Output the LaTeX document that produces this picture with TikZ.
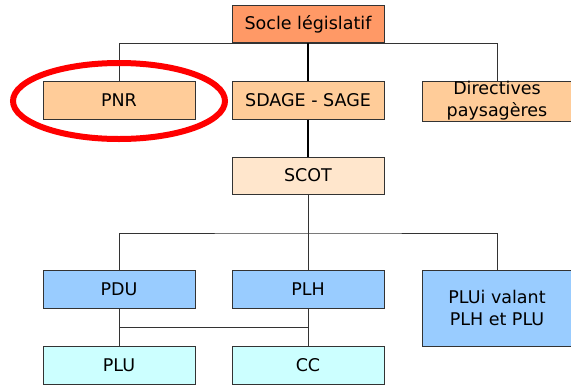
\documentclass[tikz,border=0pt]{standalone}
\usepackage{fontspec}
\setmainfont{DejaVu Sans}
\definecolor{cSocle}{HTML}{FF9966}
\definecolor{cOrange}{HTML}{FFCC99}
\definecolor{cLight}{HTML}{FFE6CC}
\definecolor{cBlue}{HTML}{99CCFF}
\definecolor{cCyan}{HTML}{CCFFFF}
\definecolor{cLine}{HTML}{333333}
\begin{document}
\begin{tikzpicture}[x=1pt,y=-1pt,
  box/.style={draw=cLine, line width=1pt, minimum width=152pt, minimum height=38pt,
    inner sep=0pt, align=center, font=\fontsize{17.5}{22}\selectfont},
  conn/.style={draw=cLine, line width=1pt},
  thick conn/.style={draw=black, line width=2pt}]
\useasboundingbox (0,0) rectangle (571,384);
\node[box, fill=cSocle, minimum height=37.5pt] (socle) at (308,24.2) {Socle législatif};
\node[box, fill=cOrange] (pnr) at (119,100) {PNR};
\node[box, fill=cOrange] (sdage) at (308,100) {SDAGE - SAGE};
\node[box, fill=cOrange, minimum width=150pt, minimum height=40pt] (dir) at (497,101) {Directives\\paysagères};
\node[box, fill=cLight, minimum height=37pt] (scot) at (308,175.5) {SCOT};
\node[box, fill=cBlue] (pdu) at (119,289) {PDU};
\node[box, fill=cBlue] (plh) at (308,289) {PLH};
\node[box, fill=cBlue, minimum width=150pt, minimum height=76pt] (plui) at (497,308) {PLUi valant\\PLH et PLU};
\node[box, fill=cCyan] (plu) at (119,365) {PLU};
\node[box, fill=cCyan] (cc) at (308,365) {CC};
% connectors
\coordinate (hb) at (308,233);
\coordinate (hc) at (308,327);
\draw[conn] (pnr.north) |- (socle.south) -| (dir.north);
\draw[thick conn] (socle.south) -- (sdage.north);
\draw[thick conn] (sdage.south) -- (scot.north);
\draw[conn] (scot.south) -- (hb);
\draw[conn] (pdu.north) |- (hb) -| (plui.north);
\draw[conn] (hb) -- (plh.north);
\draw[conn] (pdu.south) -- (plu.north);
\draw[conn] (plh.south) -- (cc.north);
\draw[conn] (pdu.south |- hc) -- (hc);
% highlight
\draw[red, line width=6pt] (119,101) ellipse [x radius=106pt, y radius=38pt];
\end{tikzpicture}
\end{document}
